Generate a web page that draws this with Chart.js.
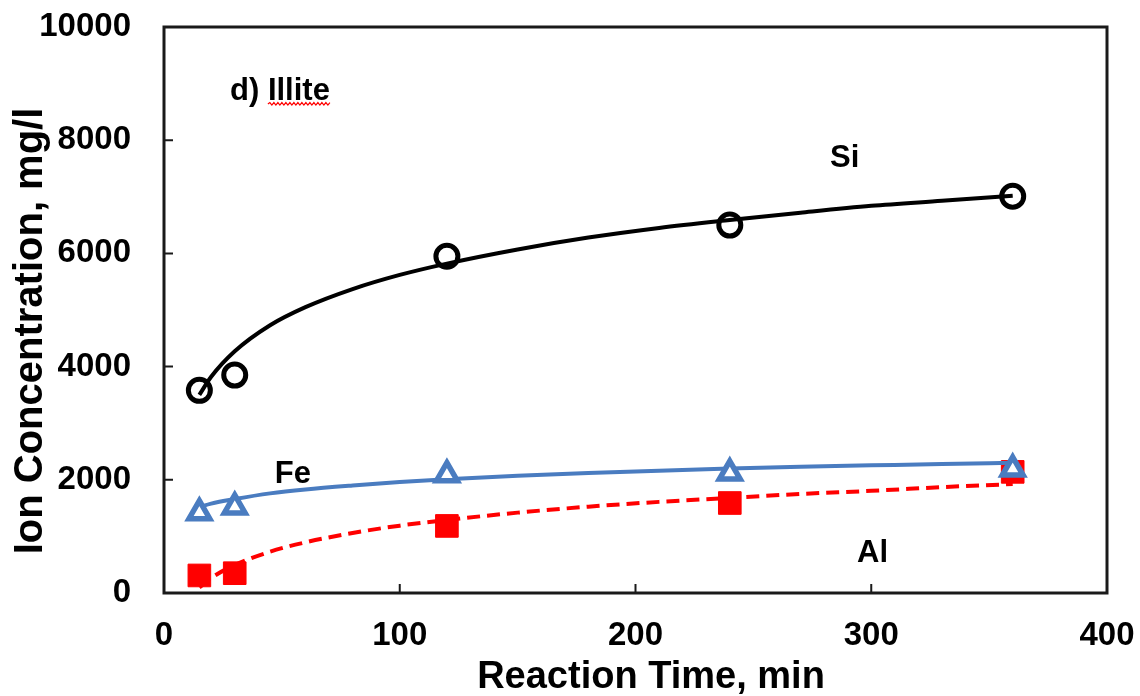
<!doctype html>
<html lang="en">
  <head>
    <meta charset="utf-8">
    <title>Illite ion concentration</title>
    <style>
      * {
        margin: 0;
        padding: 0;
      }
      body {
        background: white;
      }
    </style>
  </head>
  <body>
    <canvas id="myChart" width="1140" height="696"></canvas>
    <script src="https://cdn.jsdelivr.net/npm/chart.js/dist/chart.umd.min.js"></script>
    <script>
// measured points
const times = [15, 30, 120, 240, 360];
const siValues = [3580, 3850, 5950, 6500, 7010];
const feValues = [1420, 1520, 2090, 2120, 2190];
const alValues = [310, 350, 1185, 1590, 2140];

// trend lines
const fitTimes = [15, 20, 30, 45, 60, 80, 100, 120, 150, 180, 210, 240, 270, 300, 330, 360];
const siFit = [3500, 3820, 4270, 4730, 5050, 5370, 5620, 5820, 6070, 6280, 6450, 6590, 6720, 6840, 6930, 7020];
const feFit = [1520, 1580, 1660, 1760, 1830, 1900, 1960, 2010, 2070, 2120, 2160, 2200, 2230, 2255, 2280, 2300];
const alFit = [100, 265, 495, 730, 895, 1060, 1190, 1290, 1420, 1525, 1610, 1680, 1750, 1805, 1870, 1925];

// axis ticks
const xTicks = [0, 100, 200, 300, 400];
const yTicks = [0, 2000, 4000, 6000, 8000, 10000];

const toPoints = (xs, ys) => xs.map((x, i) => ({x: x, y: ys[i]}));

const BLUE = '#4A7CC0';
const RED = '#FF0000';
const FONT = '"Liberation Sans", Arial, sans-serif';

// frame, inner ticks and text labels
const decor = {
  id: 'decor',
  beforeDatasetsDraw(chart) {
    const {ctx, chartArea: a, scales: {x, y}} = chart;
    ctx.save();
    ctx.strokeStyle = '#1a1a1a';
    ctx.lineWidth = 2;
    ctx.beginPath();
    xTicks.forEach(v => {
      const px = x.getPixelForValue(v);
      ctx.moveTo(px, a.bottom);
      ctx.lineTo(px, a.bottom - 9);
    });
    yTicks.forEach(v => {
      const py = y.getPixelForValue(v);
      ctx.moveTo(a.left, py);
      ctx.lineTo(a.left + 9, py);
    });
    ctx.stroke();
    ctx.lineWidth = 3;
    ctx.strokeRect(a.left, a.top, a.right - a.left, a.bottom - a.top);
    ctx.restore();
  },
  afterDraw(chart) {
    const {ctx, scales: {x, y}} = chart;
    ctx.save();
    ctx.fillStyle = '#000';
    ctx.textBaseline = 'alphabetic';
    ctx.textAlign = 'left';
    ctx.font = 'bold 31px ' + FONT;
    const labels = [
      ['d) Illite', 28, 8710],
      ['Si', 282.5, 7527],
      ['Fe', 47, 1943],
      ['Al', 294, 548]
    ];
    labels.forEach(l => {
      ctx.fillText(l[0], x.getPixelForValue(l[1]), y.getPixelForValue(l[2]));
    });

    // spell-check squiggle under "Illite"
    const sx = x.getPixelForValue(28) + ctx.measureText('d) ').width;
    const ex = x.getPixelForValue(28) + ctx.measureText('d) Illite').width;
    const by = y.getPixelForValue(8710) + 4;
    ctx.strokeStyle = RED;
    ctx.lineWidth = 1.2;
    ctx.beginPath();
    ctx.moveTo(sx, by);
    let up = true;
    for (let px = sx + 2; px <= ex; px += 2) {
      ctx.lineTo(px, up ? by - 1.5 : by + 1);
      up = !up;
    }
    ctx.stroke();

    // axis titles
    ctx.textAlign = 'center';
    ctx.font = 'bold 38px ' + FONT;
    ctx.fillText('Reaction Time, min', 651, 688);
    ctx.font = 'bold 40px ' + FONT;
    ctx.translate(42, 331);
    ctx.rotate(-Math.PI / 2);
    ctx.fillText('Ion Concentration, mg/l', 0, 0);
    ctx.restore();
  }
};

const lineBase = {
  showLine: true,
  pointRadius: 0,
  pointHoverRadius: 0,
  fill: false,
  cubicInterpolationMode: 'monotone',
  borderWidth: 4
};

const data = {
  datasets: [
    Object.assign({}, lineBase, {
      label: 'Fe fit', data: toPoints(fitTimes, feFit), borderColor: BLUE, order: 2
    }),
    {
      label: 'Fe', data: toPoints(times, feValues), showLine: false,
      pointStyle: 'triangle', pointRadius: 12, pointBorderWidth: 5.5,
      pointBorderColor: BLUE, pointBackgroundColor: 'white', order: 1
    },
    Object.assign({}, lineBase, {
      label: 'Al fit', data: toPoints(fitTimes, alFit), borderColor: RED,
      borderDash: [13, 7], order: 4
    }),
    {
      label: 'Al', data: toPoints(times, alValues), showLine: false,
      pointStyle: 'rect', pointRadius: 16, pointBorderWidth: 1,
      pointBorderColor: RED, pointBackgroundColor: RED, order: 3
    },
    Object.assign({}, lineBase, {
      label: 'Si fit', data: toPoints(fitTimes, siFit), borderColor: '#000', order: 5
    }),
    {
      label: 'Si', data: toPoints(times, siValues), showLine: false,
      pointStyle: 'circle', pointRadius: 11, pointBorderWidth: 5,
      pointBorderColor: '#000', pointBackgroundColor: 'rgba(0,0,0,0)', order: 6
    }
  ]
};

const config = {
  type: 'scatter',
  data,
  options: {
    responsive: false,
    devicePixelRatio: 1,
    animation: false,
    layout: {
      padding: {top: 27, right: 33, left: 0, bottom: 0}
    },
    plugins: {
      legend: {display: false},
      tooltip: {enabled: false}
    },
    scales: {
      x: {
        type: 'linear',
        min: 0,
        max: 400,
        afterBuildTicks: s => { s.ticks = xTicks.map(v => ({value: v})); },
        afterFit: s => { s.height = 103; s.paddingLeft = 0; s.paddingRight = 0; },
        grid: {display: false, drawTicks: false},
        border: {display: false},
        ticks: {
          padding: 23,
          color: '#000',
          maxRotation: 0,
          callback: v => String(v),
          font: {family: FONT, size: 33, weight: 'bold'}
        }
      },
      y: {
        type: 'linear',
        min: 0,
        max: 10000,
        afterBuildTicks: s => { s.ticks = yTicks.map(v => ({value: v})); },
        afterFit: s => { s.width = 164; s.paddingTop = 0; s.paddingBottom = 0; },
        grid: {display: false, drawTicks: false},
        border: {display: false},
        ticks: {
          padding: 33,
          color: '#000',
          callback: v => String(v),
          font: {family: FONT, size: 33, weight: 'bold'}
        }
      }
    }
  },
  plugins: [decor]
};

const myChart = new Chart(document.getElementById('myChart'), config);
    </script>
  </body>
</html>
